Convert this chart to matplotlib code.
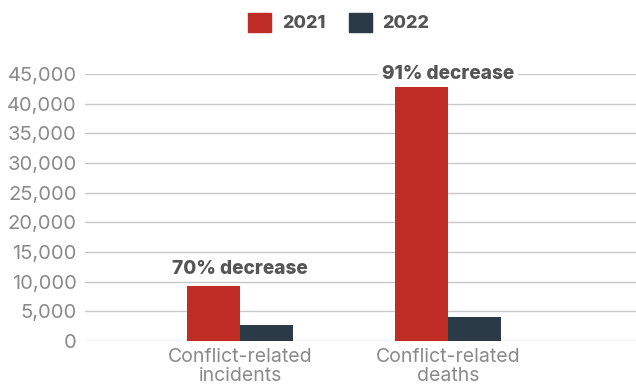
import numpy as np
import matplotlib.pyplot as plt
from matplotlib.patches import Patch

categories = ['Conflict-related\nincidents', 'Conflict-related\ndeaths']
years = ['2021', '2022']
values_2021 = [9300, 42800]
values_2022 = [2750, 4000]
notes = ['70% decrease', '91% decrease']
yticks = [0, 5000, 10000, 15000, 20000, 25000, 30000, 35000, 40000, 45000]

red = '#BF2C25'
navy = '#2B3A47'
grey_txt = '#8a8a8a'
dark_txt = '#555555'

plt.rcParams['font.family'] = ['Inter', 'DejaVu Sans']

fig = plt.figure(figsize=(6.36, 3.85), dpi=100)
ax = fig.add_axes([0.134, 0.114, 0.866, 0.694])

x = np.arange(len(categories))
w = 0.255
ax.bar(x - w / 2, values_2021, w, color=red, zorder=3)
ax.bar(x + w / 2, values_2022, w, color=navy, zorder=3)

ax.set_xlim(-0.745, 1.904)
ax.set_ylim(0, 45000)
ax.set_yticks(yticks)
ax.set_yticklabels([f'{v:,}' for v in yticks], fontsize=14.5)
ax.set_xticks(x)
ax.set_xticklabels(categories, linespacing=1.05, fontsize=14)
ax.tick_params(axis='both', length=0, colors=grey_txt)
ax.tick_params(axis='y', pad=6)
ax.tick_params(axis='x', pad=5)
ax.grid(axis='y', color='#c8c8c8', linewidth=1.0, zorder=0)
ax.set_axisbelow(True)
for s in ax.spines.values():
    s.set_visible(False)

# notes above each group
ax.text(x[0], values_2021[0] + 1300, notes[0], ha='center', va='bottom',
        fontsize=13.7, fontweight='heavy', color=dark_txt, zorder=4)
ax.text(x[1], 45000, notes[1], ha='center', va='center',
        fontsize=13.7, fontweight='heavy', color=dark_txt, zorder=4,
        bbox=dict(facecolor='white', edgecolor='none', pad=3))

handles = [Patch(color=red), Patch(color=navy)]
leg = fig.legend(handles, years, loc='center', bbox_to_anchor=(0.533, 0.9416),
                 ncol=2, frameon=False, handlelength=1.28, handleheight=1.28,
                 handletextpad=0.6, columnspacing=1.28, fontsize=13)
for t in leg.get_texts():
    t.set_color(dark_txt)
    t.set_fontweight('heavy')

fig.savefig('out.png', dpi=100)
